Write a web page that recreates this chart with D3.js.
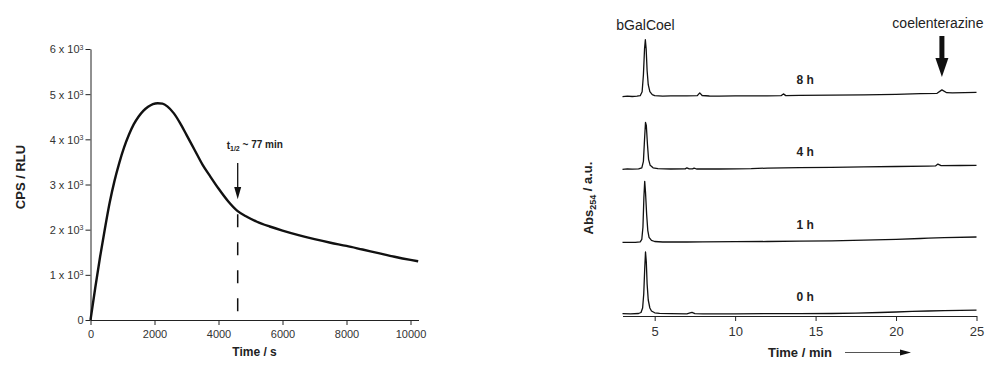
<!DOCTYPE html>
<html>
<head>
<meta charset="utf-8">
<script src="https://cdn.jsdelivr.net/npm/d3@7"></script>
<style>
  html, body { margin: 0; padding: 0; background: #fff; }
  svg { display: block; font-family: Arial, "Liberation Sans", Helvetica, sans-serif; }
  .tick text { fill: #333; }
</style>
</head>
<body>
<svg id="chart" width="987" height="365"></svg>
<script>
// ---- Luminescence kinetics (left panel) ----
const cpsTime  = [0, 150, 300, 450, 600, 750, 900, 1050, 1200, 1350, 1500, 1650, 1800, 1950, 2100, 2250, 2400, 2600, 2800, 3000, 3250, 3500, 3750, 4000, 4300, 4600, 4900, 5200, 5600, 6000, 6500, 7000, 7500, 8000, 8500, 9000, 9500, 10000, 10240];
const cpsValue = [0, 720, 1400, 2020, 2600, 3080, 3480, 3820, 4100, 4330, 4500, 4630, 4720, 4780, 4800, 4790, 4730, 4580, 4360, 4100, 3770, 3440, 3170, 2910, 2630, 2410, 2280, 2175, 2070, 1980, 1880, 1790, 1710, 1640, 1560, 1480, 1400, 1330, 1300];
const cpsXTicks = [0, 2000, 4000, 6000, 8000, 10000];
const cpsYTicks = [0, 1000, 2000, 3000, 4000, 5000, 6000];
const halfLifeTime = 4600;   // s  (~77 min)
const halfLifeValue = 2410;

// ---- HPLC traces (right panel): [time / min, Abs / a.u.] ----
const trace0h = [[3,0.3],[3.5,0.2],[4.0,0.5],[4.15,1.5],[4.25,6],[4.32,20],[4.38,45],[4.43,62],[4.48,52],[4.53,30],[4.6,14],[4.7,6],[4.8,3],[5.0,1.2],[5.3,0.6],[6,0.3],[7,0.2],[7.2,1.2],[7.32,1.6],[7.5,0.4],[8,0.2],[10,0.2],[12,0.3],[14,0.4],[16,0.5],[17.5,0.8],[19,1.5],[20,2.0],[21,2.6],[22,3.0],[23,3.3],[24,3.6],[25,3.8]];
const trace1h = [[3,0],[3.8,0],[4.1,0.5],[4.2,3],[4.27,15],[4.33,45],[4.38,61],[4.43,50],[4.5,28],[4.57,12],[4.65,5],[4.8,2],[5,0.8],[5.5,0.3],[7,0.3],[8,0.5],[10,0.6],[12,0.8],[14,1.2],[16,1.5],[18,2.2],[20,3.0],[21.5,3.8],[22,4.2],[23,4.6],[25,5.3]];
const trace4h = [[3,0],[3.3,0.4],[3.6,0.1],[4.0,0.4],[4.2,1.5],[4.3,8],[4.37,30],[4.43,47],[4.48,44],[4.55,25],[4.62,10],[4.72,4],[4.9,1.5],[5.2,0.6],[6,0.3],[6.9,0.4],[7.0,1.5],[7.15,0.4],[7.35,0.4],[7.45,1.2],[7.6,0.3],[9,0.3],[10.1,0.5],[11,0.6],[12,1.2],[14,1.6],[16,2.0],[18,2.4],[20,2.8],[22,3.2],[22.45,3.4],[22.6,5.2],[22.8,3.6],[24,3.8],[25,4.0]];
const trace8h = [[3,0],[3.3,0.5],[3.6,0.2],[3.9,0.6],[4.1,1],[4.22,5],[4.3,22],[4.37,48],[4.42,57],[4.47,48],[4.53,26],[4.6,12],[4.7,5],[4.85,2],[5.0,1],[5.5,0.6],[6,0.8],[7,0.8],[7.65,1],[7.8,3.8],[7.95,1.2],[8.4,0.7],[9,0.6],[10,0.8],[12,0.9],[12.85,1.0],[13.0,2.8],[13.15,1.1],[14,1.3],[16,1.6],[18,1.9],[20,2.4],[21.5,3],[22.55,3.4],[22.85,6.8],[23.15,4.0],[23.5,3.8],[25,4.4]];
const hplcTraces = [trace0h, trace1h, trace4h, trace8h];
const hplcLabels = ["0 h", "1 h", "4 h", "8 h"];
const hplcXTicks = [5, 10, 15, 20, 25];
const coelTime = 22.85;
const bGalTime = 4.43;

const svg = d3.select("#chart");

// ================= Left panel =================
const xL = d3.scaleLinear().domain([0, 10250]).range([90.5, 418.5]);
const yL = d3.scaleLinear().domain([0, 6000]).range([320, 49]);

const gxL = svg.append("g").attr("transform", `translate(0,${yL(0)})`)
  .call(d3.axisBottom(xL).tickValues(cpsXTicks).tickSize(5).tickSizeOuter(0).tickFormat(d3.format("d")));
gxL.selectAll("text").attr("font-size", 11).attr("dy", "0.95em");

const gyL = svg.append("g").attr("transform", `translate(${xL(0)},0)`)
  .call(d3.axisLeft(yL).tickValues(cpsYTicks).tickSize(5).tickSizeOuter(0).tickFormat(""));
gyL.selectAll(".tick").each(function(d) {
  const t = d3.select(this).select("text").attr("font-size", 11).attr("x", -7).attr("dy", "0.35em");
  if (d === 0) { t.text("0"); return; }
  t.append("tspan").text(`${d / 1000} x 10`);
  t.append("tspan").attr("font-size", 7).attr("dy", "-0.55em").text("3");
});
[gxL, gyL].forEach(g => {
  g.select(".domain").attr("stroke", "#222");
  g.selectAll(".tick line").attr("stroke", "#222");
});

svg.append("path")
  .datum(cpsTime.map((t, i) => [t, cpsValue[i]]))
  .attr("fill", "none").attr("stroke", "#111").attr("stroke-width", 2.4)
  .attr("stroke-linejoin", "round")
  .attr("d", d3.line().x(d => xL(d[0])).y(d => yL(d[1])).curve(d3.curveMonotoneX));

// half-life marker: dashed drop line plus arrow and label
const hlX = xL(halfLifeTime);
const hlY = yL(halfLifeValue);
svg.append("line")
  .attr("x1", hlX).attr("x2", hlX)
  .attr("y1", hlY + 3).attr("y2", yL(0) - 6)
  .attr("stroke", "#111").attr("stroke-width", 1.5).attr("stroke-dasharray", "13,15");
svg.append("line")
  .attr("x1", hlX).attr("x2", hlX)
  .attr("y1", 163).attr("y2", 190)
  .attr("stroke", "#111").attr("stroke-width", 1.3);
svg.append("path")
  .attr("d", `M${hlX - 3.5},187 L${hlX + 3.5},187 L${hlX},${hlY - 12} Z`)
  .attr("fill", "#111");
const hl = svg.append("text").attr("x", hlX - 11).attr("y", 149)
  .attr("font-size", 10).attr("font-weight", "bold").attr("fill", "#222");
hl.append("tspan").text("t");
hl.append("tspan").attr("font-size", 7).attr("dy", "0.35em").text("1/2");
hl.append("tspan").attr("dy", "-0.35em").text(" ~ 77 min");

svg.append("text").attr("x", (xL(0) + xL(10250)) / 2).attr("y", 356)
  .attr("text-anchor", "middle").attr("font-size", 12).attr("font-weight", "bold").attr("fill", "#222")
  .text("Time / s");
svg.append("text").attr("transform", "translate(25,177) rotate(-90)")
  .attr("text-anchor", "middle").attr("font-size", 13).attr("font-weight", "bold").attr("fill", "#222")
  .text("CPS / RLU");

// ================= Right panel =================
const xR = d3.scaleLinear().domain([3, 25]).range([622.5, 976.5]);
const yR = d3.scaleLinear().domain([0, 290]).range([316, 26]);
const traceOffsets = [2, 73.7, 146.7, 219.3];

const gxR = svg.append("g").attr("transform", `translate(0,${yR(0)})`)
  .call(d3.axisBottom(xR).tickValues(hplcXTicks).tickSize(5).tickSizeOuter(0));
gxR.selectAll("text").attr("font-size", 13).attr("dy", "0.9em");
gxR.select(".domain").attr("stroke", "#222");
gxR.selectAll(".tick line").attr("stroke", "#222");

const lineR = d3.line().x(d => xR(d[0])).y(d => yR(d[1]));
hplcTraces.forEach((tr, i) => {
  const off = traceOffsets[i];
  svg.append("path")
    .datum(tr.map(p => [p[0], p[1] + off]))
    .attr("fill", "none").attr("stroke", "#111").attr("stroke-width", 1.3)
    .attr("stroke-linejoin", "round")
    .attr("d", lineR);
  svg.append("text").attr("x", xR(14.35)).attr("y", yR(off + 13))
    .attr("text-anchor", "middle").attr("font-size", 12).attr("font-weight", "bold").attr("fill", "#222")
    .text(hplcLabels[i]);
});

svg.append("text").attr("x", xR(bGalTime)).attr("y", 30)
  .attr("text-anchor", "middle").attr("font-size", 14).attr("fill", "#222").text("bGalCoel");
svg.append("text").attr("x", xR(coelTime) - 4).attr("y", 28)
  .attr("text-anchor", "middle").attr("font-size", 14).attr("fill", "#222").text("coelenterazine");

// thick arrow pointing at the coelenterazine peak
const ax = xR(coelTime);
svg.append("rect").attr("x", ax - 2.5).attr("y", 36).attr("width", 5).attr("height", 24).attr("fill", "#111");
svg.append("path").attr("d", `M${ax - 6.5},58 L${ax + 6.5},58 L${ax},77 Z`).attr("fill", "#111");

// axis titles
svg.append("text").attr("x", 800).attr("y", 357)
  .attr("text-anchor", "middle").attr("font-size", 13).attr("font-weight", "bold").attr("fill", "#222")
  .text("Time / min");
svg.append("line").attr("x1", 845).attr("x2", 902).attr("y1", 352.5).attr("y2", 352.5)
  .attr("stroke", "#555").attr("stroke-width", 1);
svg.append("path").attr("d", "M900,349.5 L911,352.5 L900,355.5 Z").attr("fill", "#111");

const yt = svg.append("text").attr("transform", "translate(593,198) rotate(-90)")
  .attr("text-anchor", "middle").attr("font-size", 13).attr("font-weight", "bold").attr("fill", "#222");
yt.append("tspan").text("Abs");
yt.append("tspan").attr("font-size", 9).attr("dy", "0.35em").text("254");
yt.append("tspan").attr("dy", "-0.35em").text(" / a.u.");
</script>
</body>
</html>
